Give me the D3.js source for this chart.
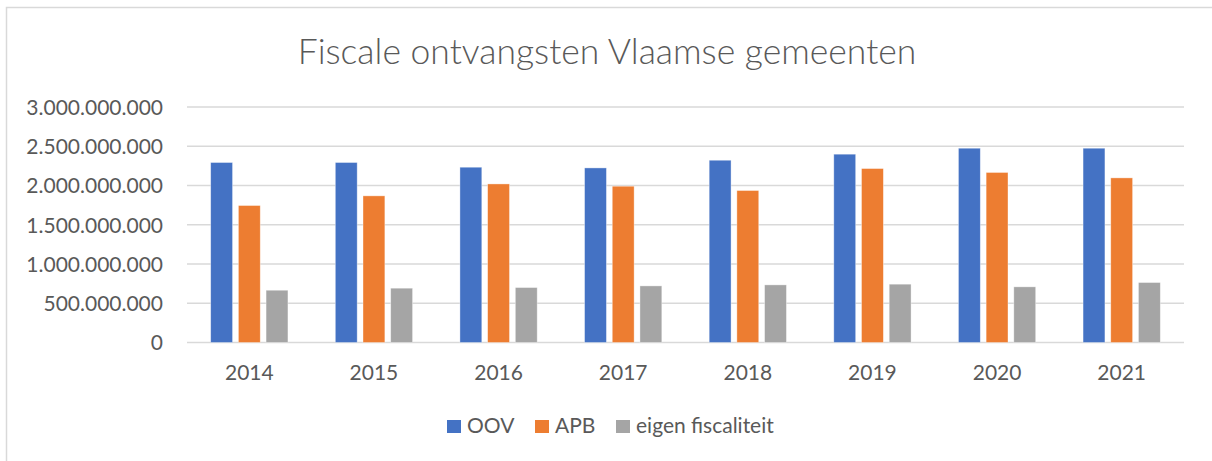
<!DOCTYPE html>
<meta charset="utf-8">
<style>
  body { margin: 0; background: #fff; }
  text { font-family: Lato, 'Open Sans', sans-serif; fill: #595959; }
</style>
<script src="https://d3js.org/d3.v7.min.js"></script>
<div id="chart"></div>
<script>
// data
var years = ["2014", "2015", "2016", "2017", "2018", "2019", "2020", "2021"];
var series = ["OOV", "APB", "eigen fiscaliteit"];
var oov   = [2293e6, 2293e6, 2233e6, 2224e6, 2322e6, 2399e6, 2475e6, 2475e6];
var apb   = [1745e6, 1868e6, 2020e6, 1991e6, 1936e6, 2216e6, 2166e6, 2097e6];
var eigen = [666e6, 692e6, 700e6, 721e6, 734e6, 743e6, 709e6, 764e6];
var yTicks = [0, 5e8, 1e9, 1.5e9, 2e9, 2.5e9, 3e9];
var colors = ["#4472C4", "#ED7D31", "#A5A5A5"];

var values = [oov, apb, eigen];
var rows = years.map(function(yr, i) {
  return {year: yr, vals: series.map(function(s, j) { return {key: s, v: values[j][i], c: colors[j]}; })};
});

var W = 1212, H = 461;
var svg = d3.select("#chart").append("svg")
  .attr("width", W).attr("height", H);

// chart border
svg.append("rect")
  .attr("x", 6.5).attr("y", 7.5)
  .attr("width", W + 10).attr("height", H + 10)
  .attr("fill", "#fff").attr("stroke", "#d9d9d9").attr("stroke-width", 1.5);

var plotLeft = 187, plotRight = 1184, plotTop = 107, plotBottom = 342.5;

var x0 = d3.scaleBand().domain(years).range([plotLeft, plotRight])
  .paddingInner(0.38).paddingOuter(0.19);
var x1 = d3.scaleBand().domain(series).range([0, x0.bandwidth()])
  .paddingInner(0.21);
var y = d3.scaleLinear().domain([0, 3e9]).range([plotBottom, plotTop]);

// gridlines
svg.append("g").selectAll("line")
  .data(yTicks)
  .enter().append("line")
    .attr("x1", plotLeft).attr("x2", plotRight)
    .attr("y1", function(d) { return y(d); })
    .attr("y2", function(d) { return y(d); })
    .attr("stroke", "#d9d9d9").attr("stroke-width", 1.5);

// y axis labels
var fmt = function(d) { return d3.format(",")(d).replace(/,/g, "."); };
var yAxis = svg.append("g")
  .attr("transform", "translate(" + (plotLeft - 24) + ",0)")
  .call(d3.axisLeft(y).tickValues(yTicks).tickFormat(fmt).tickSize(0).tickPadding(0));
yAxis.select(".domain").remove();
yAxis.selectAll("text")
  .style("font-size", "21px").style("font-family", "Lato, sans-serif")
  .attr("fill", "#595959").attr("dy", "0.35em");

// x axis labels
var xAxis = svg.append("g")
  .attr("transform", "translate(0," + plotBottom + ")")
  .call(d3.axisBottom(x0).tickSize(0).tickPadding(23));
xAxis.select(".domain").remove();
xAxis.selectAll("text")
  .style("font-size", "21px").style("font-family", "Lato, sans-serif")
  .attr("fill", "#595959");

// bars
svg.append("g").selectAll("g")
  .data(rows)
  .enter().append("g")
    .attr("transform", function(d) { return "translate(" + x0(d.year) + ",0)"; })
  .selectAll("rect")
  .data(function(d) { return d.vals; })
  .enter().append("rect")
    .attr("x", function(d) { return x1(d.key); })
    .attr("y", function(d) { return y(d.v); })
    .attr("width", x1.bandwidth())
    .attr("height", function(d) { return plotBottom - y(d.v); })
    .attr("fill", function(d) { return d.c; })
    .attr("stroke", "#fff").attr("stroke-opacity", 0.5).attr("stroke-width", 0.75);

// title
svg.append("text")
  .attr("x", 607).attr("y", 64)
  .attr("text-anchor", "middle")
  .style("font-size", "35.5px").style("font-weight", 300)
  .text("Fiscale ontvangsten Vlaamse gemeenten");

// legend
var legendX = [447, 535, 616];
var legend = svg.append("g").selectAll("g")
  .data(series)
  .enter().append("g")
    .attr("transform", function(d, i) { return "translate(" + legendX[i] + ",420)"; });
legend.append("rect")
  .attr("width", 14).attr("height", 13)
  .attr("fill", function(d, i) { return colors[i]; });
legend.append("text")
  .attr("x", 20).attr("y", 13)
  .style("font-size", "21px")
  .text(function(d) { return d; });
</script>
